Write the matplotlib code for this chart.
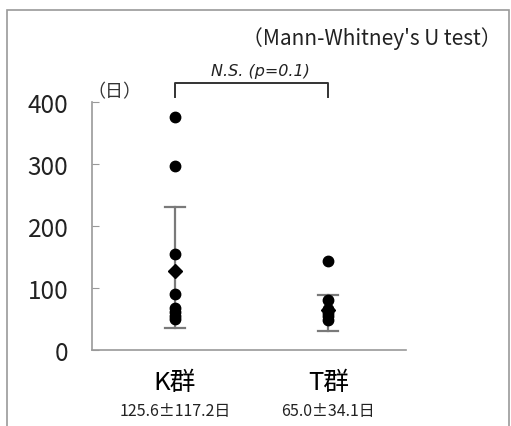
import matplotlib
matplotlib.use("Agg")
import matplotlib.pyplot as plt
from matplotlib.patches import Rectangle

plt.rcParams['font.family'] = ['Noto Sans CJK JP', 'DejaVu Sans']

# Values (days)
groups = ["K群", "T群"]
group_notes = ["125.6±117.2日", "65.0±34.1日"]
k_points = [375, 297, 155, 90, 68, 62, 55, 50]
t_points = [143, 80, 66, 60, 55, 48]
means = [128, 65]
err_low = [35, 30]
err_high = [230, 89]
y_ticks = [0, 100, 200, 300, 400]

fig = plt.figure(figsize=(5.11, 4.27), dpi=100)
ax = fig.add_axes([0.180, 0.178, 0.615, 0.581])

# outer frame of the picture
fig.patches.append(Rectangle((0.0137, -0.01), 0.982, 0.985, transform=fig.transFigure,
                             fill=False, edgecolor="#9a9a9a", linewidth=1.2))

for i, pts in enumerate([k_points, t_points]):
    ax.plot([i, i], [err_low[i], err_high[i]], color="#7a7a7a", lw=1.6, zorder=1)
    for yv in (err_low[i], err_high[i]):
        ax.plot([i - 0.065, i + 0.065], [yv, yv], color="#7a7a7a", lw=1.6, zorder=1)
    ax.plot([i] * len(pts), pts, "o", color="black", markersize=7.5, zorder=3)
    ax.plot([i], [means[i]], "D", color="black", markersize=7.5, zorder=4)

ax.set_xlim(-0.541, 1.508)
ax.set_ylim(0, 400)
ax.set_yticks(y_ticks)
ax.set_yticklabels([str(v) for v in y_ticks], fontsize=17.5, color="#222222")
ax.tick_params(axis="y", direction="in", length=5, color="#999999", pad=17)
ax.set_xticks([])
for side in ("top", "right"):
    ax.spines[side].set_visible(False)
ax.spines["left"].set_color("#999999")
ax.spines["bottom"].set_color("#999999")
ax.spines["left"].set_linewidth(1.2)
ax.spines["bottom"].set_linewidth(1.2)

# group labels under the axis
for i, (g, note) in enumerate(zip(groups, group_notes)):
    ax.annotate(g, xy=(i, 0), xycoords=("data", "axes fraction"), xytext=(0, -32),
                textcoords="offset pixels", ha="center", va="center", fontsize=18.5)
    ax.annotate(note, xy=(i, 0), xycoords=("data", "axes fraction"), xytext=(0, -61),
                textcoords="offset pixels", ha="center", va="center", fontsize=11.5,
                color="#222222")

# significance bracket
ax.plot([0, 0, 1, 1], [408, 430, 430, 408], color="#333333", lw=1.4, clip_on=False)
ax.text(0.56, 450, "N.S. (p=0.1)", ha="center", va="center", fontsize=11.5,
        style="italic", family="DejaVu Sans", color="#222222")

ax.text(-0.57, 417, "（日）", ha="left", va="center", fontsize=13, color="#333333")
fig.text(0.982, 0.91, "（Mann-Whitney's U test）", ha="right", va="center", fontsize=15,
         color="#222222")

fig.savefig("out.png", dpi=100)
